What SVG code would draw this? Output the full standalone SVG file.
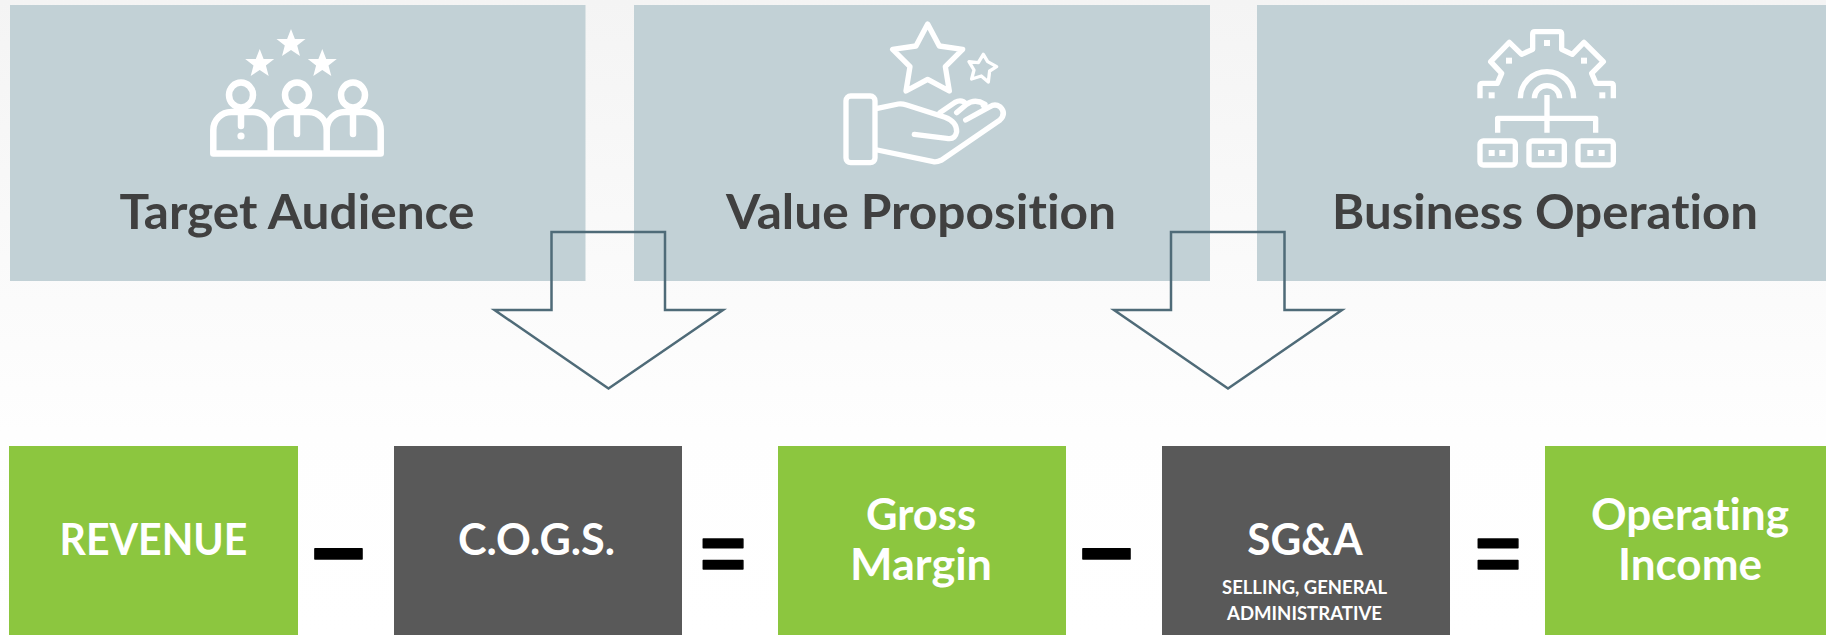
<svg xmlns="http://www.w3.org/2000/svg" width="1826" height="635" viewBox="0 0 1826 635">
<style>
.blue{fill:#c2d1d6}.green{fill:#8cc63f}.dark{fill:#595959}
.t{font-family:Lato,"Liberation Sans",sans-serif;font-weight:700;text-anchor:middle;font-variant-ligatures:none}
.h{font-size:48px;fill:#404040}
.w{font-size:44px;fill:#fff}
.s{font-size:18.5px;fill:#fff}
.op{font-family:"Liberation Sans",Arial,sans-serif;font-weight:700;fill:#000;stroke:#000;stroke-width:1.5;stroke-linejoin:round;text-anchor:middle}
.ic{fill:none;stroke:#fff;stroke-linecap:round;stroke-linejoin:round}
.sq{fill:#fff}
.arrow{fill:none;stroke:#4f6b78;stroke-width:2.5;stroke-linejoin:miter}
</style>
<defs>
<linearGradient id="bg" x1="0" y1="0" x2="0" y2="1"><stop offset="0" stop-color="#f4f4f4"/><stop offset="0.68" stop-color="#fefefe"/><stop offset="1" stop-color="#fff"/></linearGradient>
<polygon id="star" points="0,-14.5 3.9,-4.6 14.5,-4.5 6.2,1.9 9,12.5 0,6.5 -9,12.5 -6.2,1.9 -14.5,-4.5 -3.9,-4.6"/>
</defs>
<rect width="1826" height="635" fill="url(#bg)"/>

<g id="node-target-audience">
<rect class="blue" x="10" y="5" width="575.5" height="276"/>
<g fill="#fff"><use href="#star" x="291" y="43.5"/><use href="#star" x="259.7" y="63.5"/><use href="#star" x="322.3" y="63.5"/></g>
<g class="ic" stroke-width="6.5">
<ellipse cx="241" cy="95" rx="12" ry="12.5"/><ellipse cx="297" cy="95" rx="12" ry="12.5"/><ellipse cx="353" cy="95" rx="12" ry="12.5"/>
<path d="M213.3 153.5V130a18 18 0 0 1 18-18h21.4a18 18 0 0 1 18 18V153.5M270.7 130a18 18 0 0 1 18-18h20a18 18 0 0 1 18 18V153.5M326.7 130a18 18 0 0 1 18-18h18a18 18 0 0 1 18 18V153.5H213.3"/>
<path d="M241 113V126M297 113V134M353 113V134"/>
</g>
<circle class="sq" cx="241" cy="136" r="3.6"/>
<text class="t h" x="297" y="228.5" textLength="355" lengthAdjust="spacingAndGlyphs">Target Audience</text>
</g>

<g id="node-value-proposition">
<rect class="blue" x="634" y="5" width="576" height="276"/>
<g class="ic" transform="translate(820 10) scale(.3333)">
<g stroke-width="16">
<path d="M323 42L358 108L428 118L376 170L388 243L323 208L258 243L270 170L218 118L288 108Z"/>
<rect x="78" y="258" width="87" height="200" rx="14"/>
<path d="M172 295L235 282Q245 280 260 285L375 322Q410 335 410 365Q405 390 380 385L283 373"/>
<path d="M172 420L340 455Q350 457 365 450L540 330Q560 310 540 290Q525 280 510 290L437 330"/>
<path d="M360 308L405 277Q425 266 440 283L410 308M440 283Q465 265 495 283L490 287"/>
</g>
<path stroke-width="10" d="M490 133L503 155L530 170L509 183L505 216L484 198L455 207L462 180L447 155L475 158Z"/>
</g>
<text class="t h" x="921" y="228.5" textLength="390" lengthAdjust="spacingAndGlyphs">Value Proposition</text>
</g>

<g id="node-business-operation">
<rect class="blue" x="1257" y="5" width="569" height="276"/>
<g transform="translate(1450 15) scale(.3333)">
<g class="ic" stroke-width="16" style="stroke-linecap:butt">
<path d="M90 250V212Q90 205 98 205H142L155 175L122 140L178 82L215 118L248 103V58Q248 50 255 50H327Q335 50 335 58V103L367 118L402 82L460 140L425 175L438 205H483Q490 205 490 212V250"/>
<path d="M211 250A80 80 0 0 1 371 250M253 250A38 38 0 0 1 329 250"/>
<path d="M291 240V353M143 353V310H437V353"/>
<rect x="90" y="378" width="106" height="72" rx="10"/><rect x="237" y="378" width="106" height="72" rx="10"/><rect x="384" y="378" width="106" height="72" rx="10"/>
</g>
<g class="sq"><rect x="282" y="75" width="18" height="18"/><rect x="168" y="128" width="18" height="18"/><rect x="393" y="128" width="18" height="18"/><rect x="116" y="232" width="18" height="18"/><rect x="448" y="232" width="18" height="18"/>
<rect x="116" y="405" width="18" height="18"/><rect x="148" y="405" width="18" height="18"/><rect x="264" y="405" width="18" height="18"/><rect x="296" y="405" width="18" height="18"/><rect x="412" y="405" width="18" height="18"/><rect x="446" y="405" width="18" height="18"/></g>
</g>
<text class="t h" x="1545" y="228.5" textLength="426" lengthAdjust="spacingAndGlyphs">Business Operation</text>
</g>

<g id="connectors">
<polygon class="arrow" points="551.5,232 665,232 665,310 723,310 608.5,388.5 494.5,310 551.5,310"/>
<polygon class="arrow" points="1171,232 1284.5,232 1284.5,310 1342,310 1228,388.5 1114,310 1171,310"/>
</g>

<g id="node-revenue"><rect class="green" x="9" y="446" width="289" height="189"/><text class="t w" x="153.5" y="554.5" textLength="188" lengthAdjust="spacingAndGlyphs">REVENUE</text></g>
<g id="op-minus-1"><text class="op" x="338.5" y="585" font-size="94">−</text></g>
<g id="node-cogs"><rect class="dark" x="394" y="446" width="288" height="189"/><text class="t w" x="536.5" y="554.5" textLength="157" lengthAdjust="spacingAndGlyphs">C.O.G.S.</text></g>
<g id="op-equals-1"><text class="op" x="723" y="580" font-size="79">=</text></g>
<g id="node-gross-margin"><rect class="green" x="778" y="446" width="288" height="189"/><text class="t w" x="921" y="530" textLength="110" lengthAdjust="spacingAndGlyphs">Gross</text><text class="t w" x="921" y="579.5" textLength="142" lengthAdjust="spacingAndGlyphs">Margin</text></g>
<g id="op-minus-2"><text class="op" x="1106.5" y="585" font-size="94">−</text></g>
<g id="node-sga"><rect class="dark" x="1162" y="446" width="288" height="189"/><text class="t w" x="1305" y="554.5" textLength="115.5" lengthAdjust="spacingAndGlyphs">SG&amp;A</text><text class="t s" x="1304.5" y="593.5" textLength="165" lengthAdjust="spacingAndGlyphs">SELLING, GENERAL</text><text class="t s" x="1304.5" y="619.5" textLength="155" lengthAdjust="spacingAndGlyphs">ADMINISTRATIVE</text></g>
<g id="op-equals-2"><text class="op" x="1498" y="580" font-size="79">=</text></g>
<g id="node-operating-income"><rect class="green" x="1545" y="446" width="281" height="189"/><text class="t w" x="1690" y="530" textLength="198" lengthAdjust="spacingAndGlyphs">Operating</text><text class="t w" x="1690" y="579.5" textLength="144" lengthAdjust="spacingAndGlyphs">Income</text></g>
</svg>
